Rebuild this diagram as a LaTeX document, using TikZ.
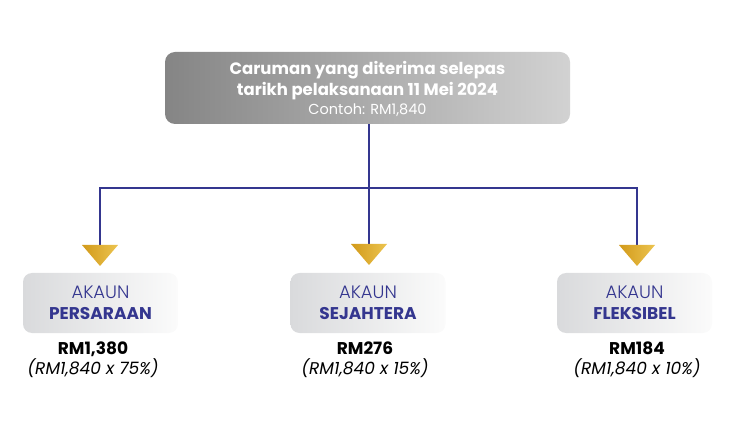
\documentclass[tikz,border=0pt]{standalone}
\usepackage{fontspec}
\setmainfont{Poppins}
\newfontfamily\lightfont{Poppins Light}
\definecolor{navy}{HTML}{34368F}
\definecolor{goldL}{HTML}{D29A1A}
\definecolor{goldR}{HTML}{ECC450}
\definecolor{grayL}{HTML}{858585}
\definecolor{grayR}{HTML}{D2D2D2}
\definecolor{boxL}{HTML}{D9DADC}
\definecolor{boxR}{HTML}{FBFBFB}
\begin{document}
\begin{tikzpicture}[x=1pt,y=-1pt,
  topbox/.style={rounded corners=10pt, left color=grayL, right color=grayR, draw=none,
    minimum width=405pt, minimum height=72pt, inner sep=0pt, text=white, align=center,
    font=\fontsize{16.5}{21}\selectfont},
  acct/.style={rounded corners=9pt, left color=boxL, right color=boxR, draw=none,
    minimum width=155pt, minimum height=60pt, inner sep=0pt, text=navy, align=center,
    font=\fontsize{17}{21}\selectfont},
  val/.style={align=center, text=black, inner sep=0pt, font=\fontsize{17}{19.5}\selectfont},
  conn/.style={draw=navy, line width=2pt},
  tri/.style={left color=goldL, right color=goldR, draw=none}]
\useasboundingbox (0,0) rectangle (736,430);
\node[topbox] (top) at (367.5,88) {};
\node[text=white, align=center, inner sep=0pt, font=\fontsize{16.5}{21}\selectfont] (toptext) at (367.5,89)
  {\bfseries Caruman yang diterima selepas\\
  \bfseries tarikh pelaksanaan 11 Mei 2024\\[-2pt]
  {\mdseries\fontsize{14.5}{16}\selectfont Contoh: RM1,840}};
\node[acct] (a1) at (100.5,303) {{\lightfont\fontsize{18}{21}\selectfont AKAUN}\\\textbf{PERSARAAN}};
\node[acct] (a2) at (368,303) {{\lightfont\fontsize{18}{21}\selectfont AKAUN}\\\textbf{SEJAHTERA}};
\node[acct] (a3) at (634.5,303) {{\lightfont\fontsize{18}{21}\selectfont AKAUN}\\\textbf{FLEKSIBEL}};
\node[val] (v1) at (93,359.5) {\textbf{RM1,380}\\\textit{(RM1,840 x 75\%)}};
\node[val] (v2) at (365,359.5) {\textbf{RM276}\\\textit{(RM1,840 x 15\%)}};
\node[val] (v3) at (637,359.5) {\textbf{RM184}\\\textit{(RM1,840 x 10\%)}};
\coordinate (t1) at (100,245);
\coordinate (t2) at (369,244);
\coordinate (t3) at (637,245);
\coordinate (hl) at (100,188);
\coordinate (hr) at (637,188);
\draw[conn] (t1) -- (hl) -- (hr) -- (t3);
\draw[conn] (top.south -| t2) -- (t2);
\foreach \t in {t1,t2,t3}
  \shade[tri] (\t) ++(-18,0) -- ++(36,0) -- ++(-18,21) -- cycle;
\end{tikzpicture}
\end{document}
